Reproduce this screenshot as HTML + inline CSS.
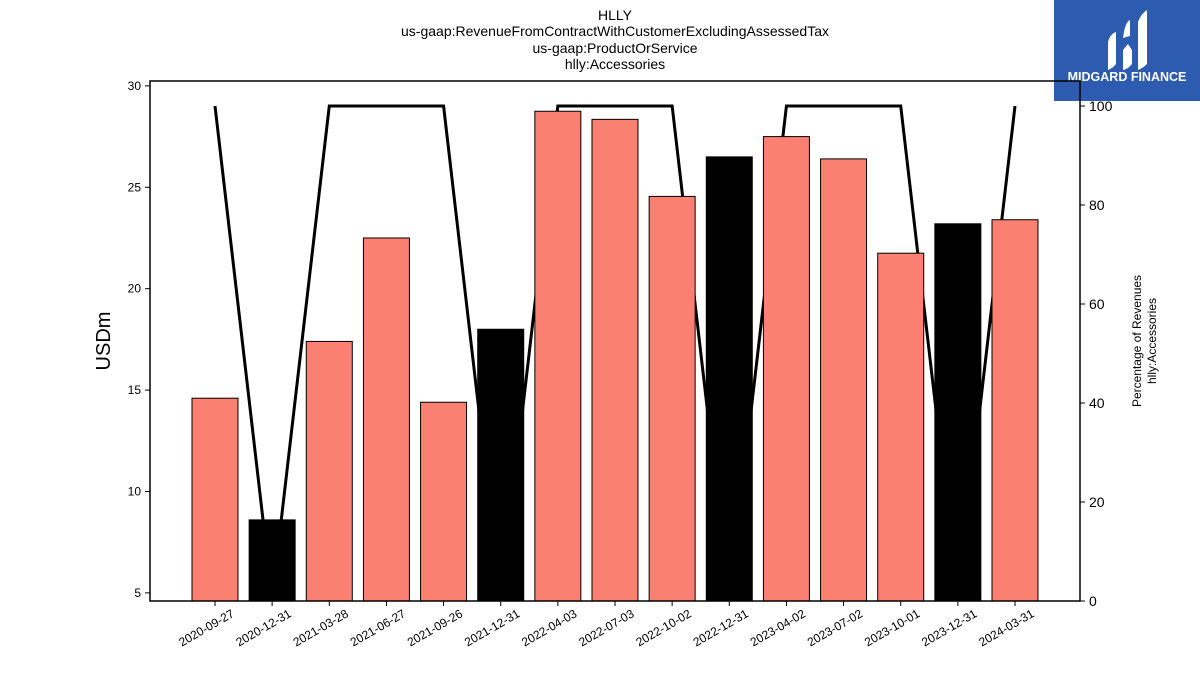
<!DOCTYPE html>
<html><head><meta charset="utf-8"><style>
body{margin:0;background:#fff;font-family:"Liberation Sans","DejaVu Sans",sans-serif;}
</style></head><body>
<svg id="c" width="1200" height="675" xmlns="http://www.w3.org/2000/svg">
<g font-size="14" text-anchor="middle" fill="#000">
<text x="615" y="20">HLLY</text>
<text x="615" y="36">us-gaap:RevenueFromContractWithCustomerExcludingAssessedTax</text>
<text x="615" y="53">us-gaap:ProductOrService</text>
<text x="615" y="69">hlly:Accessories</text>
</g>
<g>
<rect x="1054" y="0" width="146" height="101" fill="#2d5bb0"/>
<path d="M1108 70 L1108 42 Q1110 34 1116 32 L1116 64 Q1113 68 1108 70Z M1123 70 L1123 50 L1128 44 L1132 50 L1132 64 Q1128 69 1123 70Z M1123 38 Q1125 22 1130 20 L1130 36Z M1138 70 L1138 22 Q1141 14 1147 10 L1147 64 Q1143 68 1138 70Z" fill="#fff"/>
<text x="1127" y="81" font-size="12.5" font-weight="bold" fill="#fff" text-anchor="middle">MIDGARD FINANCE</text>
</g>
<g id="plot"></g>
</svg>
<script>
const categories=["2020-09-27","2020-12-31","2021-03-28","2021-06-27","2021-09-26","2021-12-31","2022-04-03","2022-07-03","2022-10-02","2022-12-31","2023-04-02","2023-07-02","2023-10-01","2023-12-31","2024-03-31"];
const revenues=[14.6,8.6,17.4,22.5,14.4,18.0,28.75,28.35,24.55,26.5,27.5,26.4,21.75,23.2,23.4];
const percentages=[100,0.5,100,100,100,0.5,100,100,100,0.5,100,100,100,0.5,100];
const leftTicks=[5,10,15,20,25,30];
const rightTicks=[0,20,40,60,80,100];
const NS="http://www.w3.org/2000/svg";
const L=150,R=1080,T=81,B=601;
const yL=v=>601-(v-4.6)*20.28;
const yR=v=>601-v*4.95;
const xC=i=>215+i*(800/14);
const g=document.getElementById('plot');
function mk(tag,attrs,parent){const e=document.createElementNS(NS,tag);for(const k in attrs)e.setAttribute(k,attrs[k]);(parent||g).appendChild(e);return e;}
// line (behind bars)
let d=percentages.map((p,i)=>(i?'L':'M')+xC(i)+' '+yR(p)).join(' ');
const ln=mk('path',{d:d,fill:'none',stroke:'#000','stroke-width':3,'stroke-linejoin':'miter'});


revenues.forEach((v,i)=>{
 const dec=categories[i].endsWith('12-31');
 const r=mk('rect',{x:xC(i)-23,y:yL(v),width:46,height:B-yL(v),fill:dec?'#000':'#fa8072',stroke:'#000','stroke-width':1});
 
 
 mk('line',{x1:xC(i),x2:xC(i),y1:B,y2:B+5,stroke:'#000'});
 const t=mk('text',{x:xC(i)+20,y:B+15,'font-size':12,'text-anchor':'end',transform:`rotate(-30 ${xC(i)+20} ${B+15})`});
 t.textContent=categories[i];
 
 
});
const fr=mk('rect',{x:L,y:T,width:R-L,height:B-T,fill:'none',stroke:'#000','stroke-width':1.5});


leftTicks.forEach(v=>{
 mk('line',{x1:L-5,x2:L,y1:yL(v),y2:yL(v),stroke:'#000'});
 const t=mk('text',{x:L-9,y:yL(v)+4,'font-size':12,'text-anchor':'end'});t.textContent=v;
 
 
});
rightTicks.forEach(v=>{
 mk('line',{x1:R,x2:R+5,y1:yR(v),y2:yR(v),stroke:'#000'});
 const t=mk('text',{x:R+9,y:yR(v)+5,'font-size':14}); t.textContent=v;
 
 
});
const yl=mk('text',{x:110,y:341,'font-size':20,'text-anchor':'middle',transform:'rotate(-90 110 341)'});yl.textContent='USDm';


const yr1=mk('text',{x:1141,y:341,'font-size':12,'text-anchor':'middle',transform:'rotate(-90 1141 341)'});yr1.textContent='Percentage of Revenues';


const yr2=mk('text',{x:1156,y:341,'font-size':12,'text-anchor':'middle',transform:'rotate(-90 1156 341)'});yr2.textContent='hlly:Accessories';


</script>
</body></html>
